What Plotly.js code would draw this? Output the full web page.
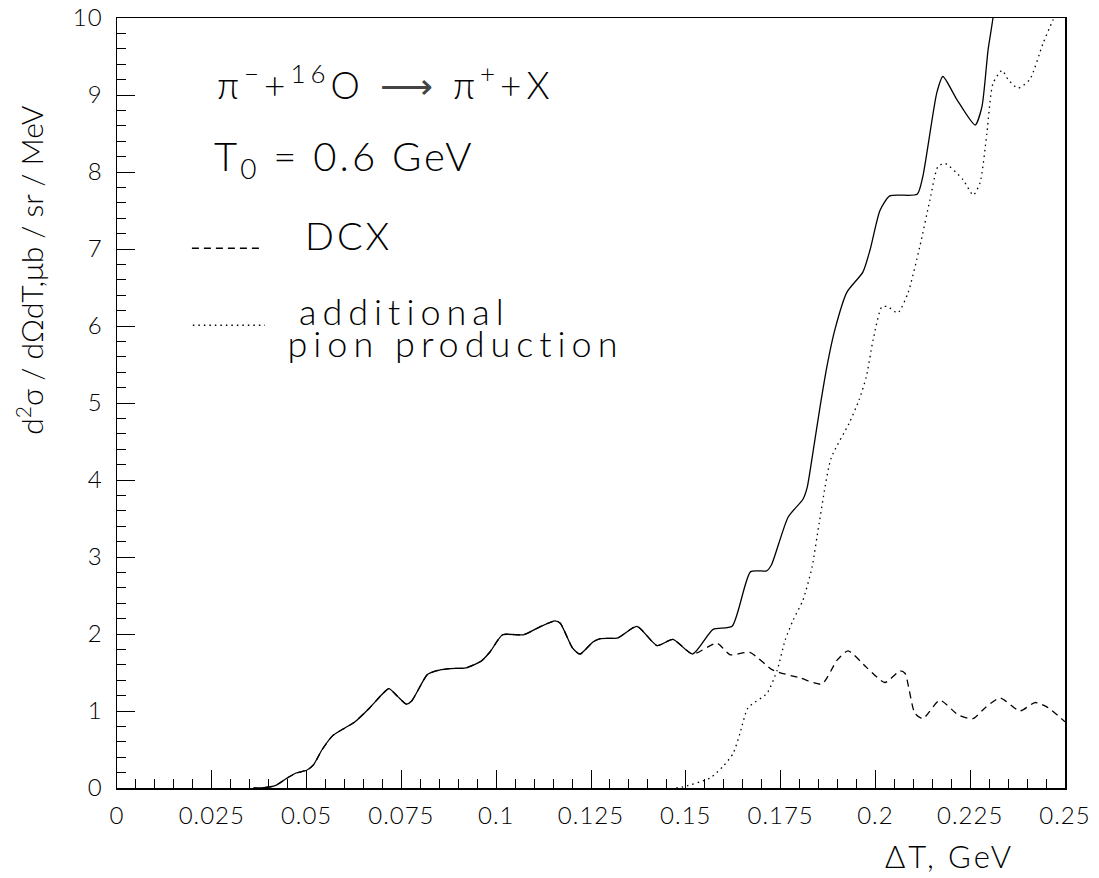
<!DOCTYPE html>
<html>
<head>
<meta charset="utf-8">
<script src="https://cdn.plot.ly/plotly-3.0.1.min.js"></script>
<style>
html,body{margin:0;padding:0;background:#fff;}
#chart{width:1099px;height:878px;}
.annotation-text{letter-spacing:3px;}
g.annotation[data-index="0"] .annotation-text{letter-spacing:5px;}
g.annotation[data-index="3"] .annotation-text,
g.annotation[data-index="4"] .annotation-text{letter-spacing:6px;}
g.annotation[data-index="6"] .annotation-text{letter-spacing:0px;}
.xtick text, .ytick text{letter-spacing:1px;}
</style>
</head>
<body>
<div id="chart"></div>
<script>
// Total (solid)
const totalX = [0.036, 0.0380, 0.0417, 0.0449, 0.0472, 0.0500, 0.0518, 0.0541, 0.0569, 0.0601, 0.0625, 0.0666, 0.0698, 0.0717, 0.0740, 0.0763, 0.0777, 0.0818, 0.0841, 0.0878, 0.0920, 0.0961, 0.0984, 0.1017, 0.1072, 0.1118, 0.1155, 0.1169, 0.1201, 0.1221, 0.1256, 0.1275, 0.1321, 0.1371, 0.1424, 0.1466, 0.1518, 0.1572, 0.1622, 0.1671, 0.1713, 0.1726, 0.1770, 0.1809, 0.1820, 0.1835, 0.1854, 0.1872, 0.1893, 0.1925, 0.1967, 0.1986, 0.2012, 0.2038, 0.2110, 0.2125, 0.2162, 0.2178, 0.2215, 0.2263, 0.2281, 0.2297, 0.2310, 0.2325];
const totalY = [0, 0, 0.03, 0.13, 0.195, 0.23, 0.30, 0.50, 0.68, 0.78, 0.85, 1.04, 1.21, 1.29, 1.19, 1.09, 1.13, 1.47, 1.52, 1.55, 1.56, 1.65, 1.77, 1.99, 1.99, 2.10, 2.17, 2.14, 1.82, 1.74, 1.90, 1.94, 1.95, 2.10, 1.85, 1.93, 1.74, 2.06, 2.10, 2.81, 2.82, 2.90, 3.52, 3.75, 3.90, 4.35, 4.95, 5.47, 5.95, 6.44, 6.70, 6.99, 7.50, 7.69, 7.71, 7.94, 9.03, 9.24, 8.94, 8.61, 8.85, 9.58, 10.0, 10.8];

// DCX (dashed)
const dcxX = [0.036, 0.0380, 0.0417, 0.0449, 0.0472, 0.0500, 0.0518, 0.0541, 0.0569, 0.0601, 0.0625, 0.0666, 0.0698, 0.0717, 0.0740, 0.0763, 0.0777, 0.0818, 0.0841, 0.0878, 0.0920, 0.0961, 0.0984, 0.1017, 0.1072, 0.1118, 0.1155, 0.1169, 0.1201, 0.1221, 0.1256, 0.1275, 0.1321, 0.1371, 0.1424, 0.1466, 0.1518, 0.1582, 0.1617, 0.1669, 0.1730, 0.1801, 0.1859, 0.1899, 0.1928, 0.1978, 0.2025, 0.2065, 0.2078, 0.2104, 0.2125, 0.2170, 0.2218, 0.2257, 0.2289, 0.2329, 0.2381, 0.2421, 0.2453, 0.25];
const dcxY = [0, 0, 0.03, 0.13, 0.195, 0.23, 0.30, 0.50, 0.68, 0.78, 0.85, 1.04, 1.21, 1.29, 1.19, 1.09, 1.13, 1.47, 1.52, 1.55, 1.56, 1.65, 1.77, 1.99, 1.99, 2.10, 2.17, 2.14, 1.82, 1.74, 1.90, 1.94, 1.95, 2.10, 1.85, 1.93, 1.74, 1.88, 1.73, 1.76, 1.53, 1.43, 1.35, 1.66, 1.78, 1.56, 1.37, 1.52, 1.49, 0.97, 0.90, 1.14, 0.95, 0.90, 1.04, 1.17, 1.00, 1.11, 1.05, 0.86];

// Additional pion production (dotted)
const addX = [0.1475, 0.1489, 0.1564, 0.1598, 0.1625, 0.1643, 0.1664, 0.1714, 0.1741, 0.1762, 0.1783, 0.1809, 0.1833, 0.1852, 0.1883, 0.1931, 0.1957, 0.1976, 0.1994, 0.2017, 0.2033, 0.2059, 0.2086, 0.2117, 0.2144, 0.2165, 0.2184, 0.2231, 0.2258, 0.2276, 0.2294, 0.2310, 0.2334, 0.2350, 0.2376, 0.2407, 0.2442, 0.2468, 0.2500];
const addY = [0, 0.01, 0.13, 0.28, 0.45, 0.71, 1.04, 1.23, 1.53, 1.92, 2.18, 2.44, 2.87, 3.45, 4.28, 4.74, 5.04, 5.34, 5.82, 6.25, 6.25, 6.17, 6.43, 7.03, 7.64, 8.07, 8.11, 7.90, 7.70, 7.86, 8.50, 9.15, 9.32, 9.20, 9.09, 9.20, 9.67, 9.97, 10.3];

const xTickVals = [0, 0.025, 0.05, 0.075, 0.1, 0.125, 0.15, 0.175, 0.2, 0.225, 0.25];
const xTickText = ["0", "0.025", "0.05", "0.075", "0.1", "0.125", "0.15", "0.175", "0.2", "0.225", "0.25"];
const yTickVals = [0, 1, 2, 3, 4, 5, 6, 7, 8, 9, 10];
const yTickText = ["0", "1", "2", "3", "4", "5", "6", "7", "8", "9", "10"];

const FONT = "Lato, DejaVu Sans, sans-serif";
const W = 300;

const traces = [
  {x: totalX, y: totalY, mode: 'lines', line: {color: '#000', width: 1.3, shape: 'spline', smoothing: 0.6}, showlegend: false, hoverinfo: 'skip'},
  {x: dcxX, y: dcxY, mode: 'lines', line: {color: '#000', width: 1.3, dash: '7px,5px', shape: 'spline', smoothing: 0.6}, showlegend: false, hoverinfo: 'skip'},
  {x: addX, y: addY, mode: 'lines', line: {color: '#000', width: 1.3, dash: '1.5px,4px', shape: 'spline', smoothing: 0.6}, showlegend: false, hoverinfo: 'skip'}
];

function tf(size) { return {family: FONT, size: size, color: '#000', weight: W}; }

const layout = {
  width: 1099, height: 878,
  margin: {l: 117, r: 34, t: 18, b: 90},
  paper_bgcolor: '#fff', plot_bgcolor: '#fff',
  font: tf(24),
  xaxis: {
    range: [0, 0.25], showgrid: false, zeroline: false,
    showline: true, linecolor: '#000', linewidth: 1.5, mirror: true,
    ticks: 'inside', ticklen: 18, tickwidth: 1, tickcolor: '#000',
    tickvals: xTickVals, ticktext: xTickText,
    minor: {dtick: 0.005, ticks: 'inside', ticklen: 9, tickwidth: 1, tickcolor: '#000', showgrid: false},
    tickfont: tf(24),
    ticklabelstandoff: 6
  },
  yaxis: {
    range: [0, 10], showgrid: false, zeroline: false,
    showline: true, linecolor: '#000', linewidth: 1.5, mirror: true,
    ticks: 'inside', ticklen: 18, tickwidth: 1, tickcolor: '#000',
    tickvals: yTickVals, ticktext: yTickText,
    minor: {dtick: 0.2, ticks: 'inside', ticklen: 9, tickwidth: 1, tickcolor: '#000', showgrid: false},
    tickfont: tf(24),
    ticklabelstandoff: 8
  },
  shapes: [
    {type: 'line', xref: 'paper', yref: 'paper', x0: 0.079, x1: 0.154, y0: 0.701, y1: 0.701, line: {color: '#000', width: 1.3, dash: '7px,5px'}},
    {type: 'line', xref: 'paper', yref: 'paper', x0: 0.080, x1: 0.156, y0: 0.601, y1: 0.601, line: {color: '#000', width: 1.3, dash: '1.5px,4px'}}
  ],
  annotations: [
    {xref: 'paper', yref: 'paper', x: 0.1171, y: 0.917, xanchor: 'left', yanchor: 'middle', showarrow: false,
     text: 'π<sup>−</sup>+<sup>16</sup>O <span style="color:#444">⟶</span> π<sup>+</sup>+X', font: tf(37)},
    {xref: 'paper', yref: 'paper', x: 0.1002, y: 0.818, xanchor: 'left', yanchor: 'middle', showarrow: false,
     text: 'T<sub>0</sub> = 0.6 GeV', font: tf(40)},
    {xref: 'paper', yref: 'paper', x: 0.196, y: 0.718, xanchor: 'left', yanchor: 'middle', showarrow: false,
     text: 'DCX', font: tf(38)},
    {xref: 'paper', yref: 'paper', x: 0.2068, y: 0.620, xanchor: 'left', yanchor: 'middle', showarrow: false, borderpad: 0,
     text: 'additional', font: tf(36)},
    {xref: 'paper', yref: 'paper', x: 0.203, y: 0.578, xanchor: 'left', yanchor: 'middle', showarrow: false, borderpad: 0,
     text: 'pion production', font: tf(36)},
    {xref: 'paper', yref: 'paper', x: (949 - 117) / 948, y: -0.088, xanchor: 'center', yanchor: 'middle', showarrow: false,
     text: 'ΔT, GeV', font: tf(31)},
    {xref: 'paper', yref: 'paper', x: -0.092, y: 0.6727, xanchor: 'center', yanchor: 'middle', showarrow: false, textangle: -90,
     text: 'd<sup>2</sup>σ / dΩdT,μb / sr / MeV', font: tf(30)}
  ]
};

Plotly.newPlot('chart', traces, layout, {staticPlot: true, displayModeBar: false});
</script>
</body>
</html>
